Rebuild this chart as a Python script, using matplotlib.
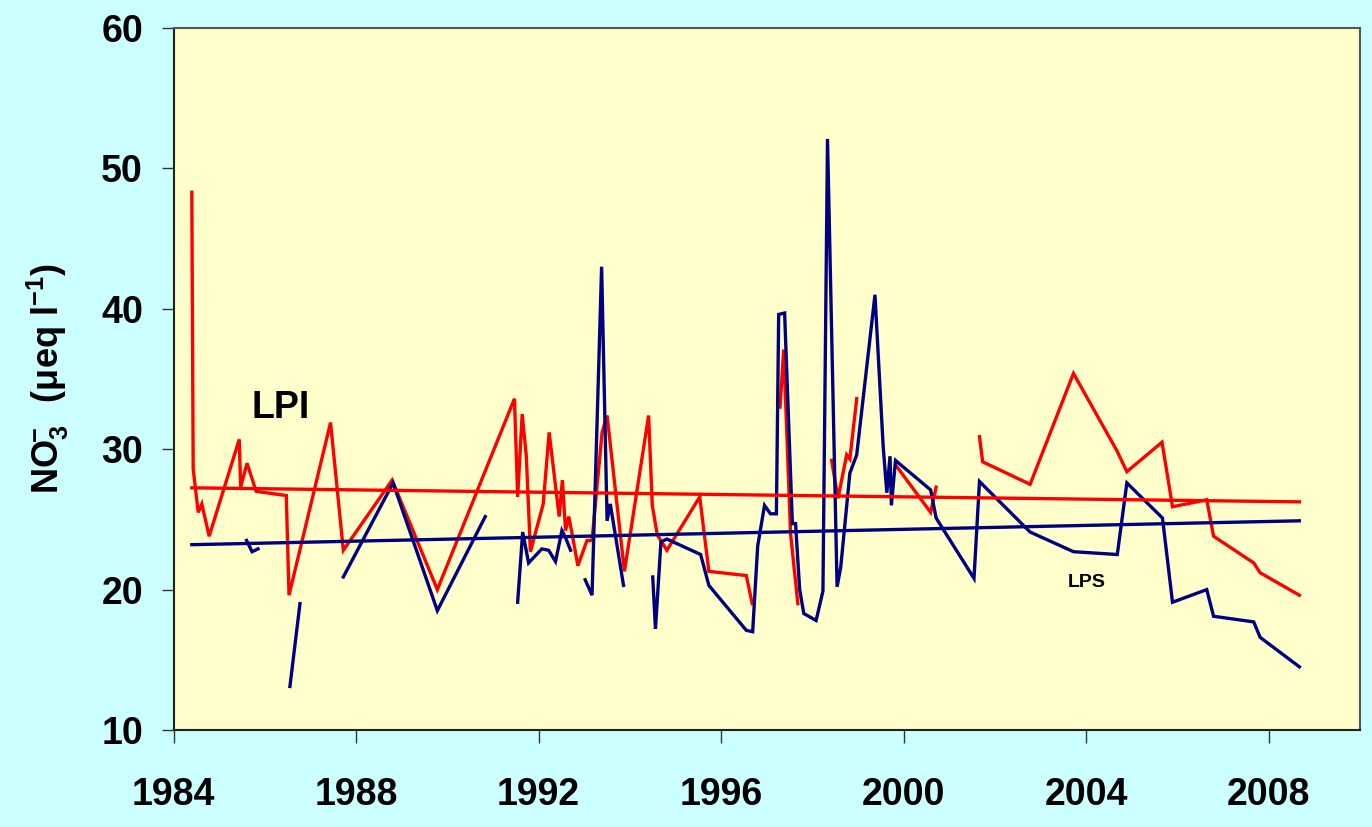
import numpy as np
import matplotlib
matplotlib.use("Agg")
import matplotlib.pyplot as plt

nan = np.nan

# LPI (red) - gaps marked with nan
lpi_years = [1984.40, 1984.43, 1984.54, 1984.62, 1984.78, 1985.44, 1985.47, 1985.61,
             1985.81, 1986.47, 1986.53, 1987.44, 1987.72, 1988.79, 1989.78, 1991.47,
             1991.54, 1991.64, 1991.73, 1991.82, 1992.10, 1992.23, 1992.45, 1992.52,
             1992.59, 1992.66, 1992.72, 1992.86, 1993.06, 1993.17, 1993.39, 1993.50,
             1993.88, 1994.41, 1994.49, 1994.60, 1994.81, 1995.53, 1995.73, 1996.55,
             1996.68, nan,
             1997.29, 1997.37, 1997.52, 1997.68, nan,
             1998.42, 1998.56, 1998.75, 1998.82, 1998.97, nan,
             1999.84, 2000.59, 2000.71, nan,
             2001.66, 2001.73, 2002.77, 2003.72, 2004.67, 2004.89, 2005.66, 2005.89,
             2006.64, 2006.79, 2007.67, 2007.81, 2008.67]
lpi_vals = [48.3, 28.6, 25.5, 26.1, 23.8, 30.7, 27.3, 29.0,
            27.0, 26.7, 19.6, 31.9, 22.8, 27.8, 20.0, 33.6,
            26.6, 32.5, 29.5, 22.7, 26.1, 31.2, 25.2, 27.8,
            24.2, 25.2, 24.2, 21.7, 23.5, 23.5, 31.2, 32.4,
            21.3, 32.4, 26.0, 23.9, 22.8, 26.6, 21.3, 21.0,
            19.0, nan,
            33.0, 37.1, 24.0, 19.0, nan,
            29.2, 26.5, 29.6, 29.3, 33.6, nan,
            28.8, 25.5, 27.3, nan,
            30.9, 29.1, 27.5, 35.4, 29.9, 28.4, 30.5, 25.9,
            26.4, 23.8, 21.9, 21.2, 19.6]

# LPS (navy)
lps_years = [1985.60, 1985.72, 1985.85, nan,
             1986.55, 1986.77, nan,
             1987.72, 1988.81, 1989.78, 1990.83, nan,
             1991.54, 1991.65, 1991.78, 1992.07, 1992.22, 1992.37, 1992.51, 1992.59,
             1992.70, nan,
             1993.02, 1993.17, 1993.38, 1993.50, 1993.57, 1993.86, nan,
             1994.50, 1994.56, 1994.68, 1994.81, 1995.55, 1995.73, 1996.55, 1996.69,
             1996.80, 1996.95, 1997.08, 1997.21, 1997.26, 1997.39, 1997.56, 1997.63,
             1997.72, 1997.81, 1998.08, 1998.23, 1998.33, 1998.54, 1998.62, 1998.82,
             1998.97, 1999.37, 1999.55, 1999.63, 1999.70, 1999.73, 1999.82, 2000.59,
             2000.71, 2001.54, 2001.66, 2002.77, 2003.72, 2004.68, 2004.89, 2005.67,
             2005.89, 2006.64, 2006.79, 2007.67, 2007.81, 2008.67]
lps_vals = [23.5, 22.7, 22.9, nan,
            13.1, 19.0, nan,
            20.9, 27.6, 18.5, 25.2, nan,
            19.1, 24.1, 21.9, 22.9, 22.8, 22.0, 24.2, 23.7,
            22.8, nan,
            20.7, 19.6, 43.0, 24.9, 26.1, 20.3, nan,
            20.9, 17.2, 23.4, 23.6, 22.5, 20.3, 17.1, 17.0,
            23.1, 26.0, 25.4, 25.4, 39.6, 39.7, 24.7, 24.7,
            20.0, 18.3, 17.8, 19.9, 52.1, 20.2, 21.6, 28.3,
            29.6, 41.0, 30.2, 26.9, 29.5, 26.0, 29.2, 27.1,
            25.1, 20.8, 27.7, 24.1, 22.7, 22.5, 27.6, 25.1,
            19.1, 20.0, 18.1, 17.7, 16.6, 14.5]

# linear trends
trend_years = [1984.40, 2008.67]
lpi_trend = [27.25, 26.25]
lps_trend = [23.2, 24.9]

RED = "#FF0000"
NAVY = "#000080"

plt.rcParams['font.family'] = ['Liberation Sans', 'DejaVu Sans']
plt.rcParams['mathtext.fontset'] = 'custom'
plt.rcParams['mathtext.rm'] = 'Liberation Sans:bold'
plt.rcParams['mathtext.it'] = 'Liberation Sans:bold'
plt.rcParams['mathtext.bf'] = 'Liberation Sans:bold'

fig = plt.figure(figsize=(13.72, 8.27), dpi=100, facecolor="#CCFFFF")
ax = fig.add_axes([0.1265, 0.1173, 0.8648, 0.8488])
ax.set_facecolor("#FFFFCC")

ax.plot(lpi_years, lpi_vals, color=RED, lw=2.4, solid_joinstyle="miter")
ax.plot(lps_years, lps_vals, color=NAVY, lw=2.4, solid_joinstyle="miter")
ax.plot(trend_years, lpi_trend, color=RED, lw=2.4)
ax.plot(trend_years, lps_trend, color=NAVY, lw=2.4)

ax.set_xlim(1984, 2010)
ax.set_ylim(10, 60)
ax.set_xticks(range(1984, 2010, 4))
ax.set_yticks(range(10, 61, 10))
ax.tick_params(axis="x", direction="out", length=9, width=1, pad=25,
               labelsize=27, color="#333333")
ax.tick_params(axis="y", direction="out", length=9, width=1, pad=13,
               labelsize=27, color="#333333")
for lab in ax.get_xticklabels() + ax.get_yticklabels():
    lab.set_fontweight("bold")

for side in ["left", "bottom"]:
    ax.spines[side].set_color("#222222")
    ax.spines[side].set_linewidth(1.5)
for side in ["top", "right"]:
    ax.spines[side].set_color("#555555")
    ax.spines[side].set_linewidth(1.5)

ax.set_ylabel(r"NO$_3^{\!\!-}$  (μeq l$^{-1}$)", fontsize=26, fontweight="bold",
              labelpad=22)

ax.text(1986.35, 32.9, "LPI", fontsize=27, fontweight="bold", ha="center", va="center")
ax.text(2004.0, 20.5, "LPS", fontsize=14, fontweight="bold", ha="center", va="center")

fig.savefig("out.png", dpi=100, facecolor=fig.get_facecolor())
